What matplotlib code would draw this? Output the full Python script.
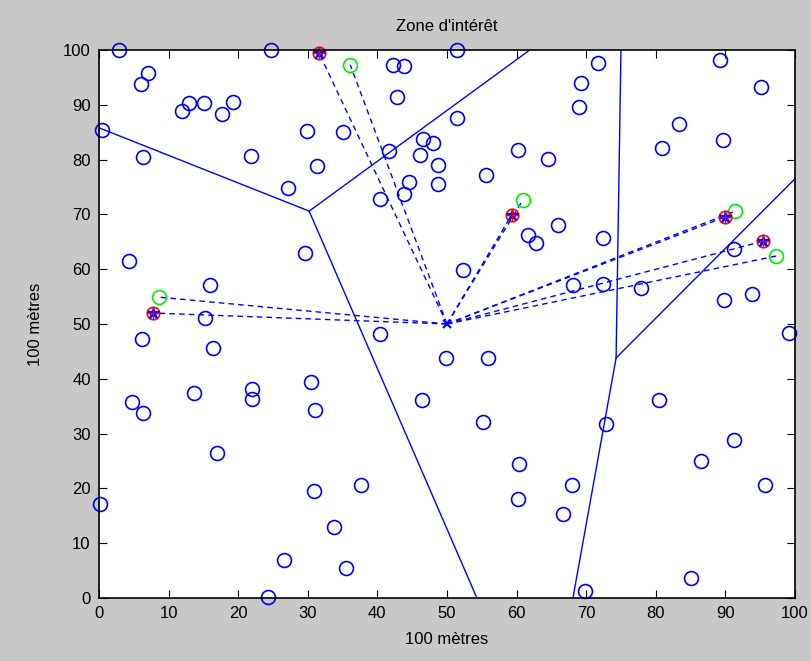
import numpy as np
import matplotlib
matplotlib.use("Agg")
import matplotlib.pyplot as plt

plt.rcParams['font.family'] = ['Liberation Sans', 'DejaVu Sans']

# capteurs (cercles bleus)
nodeX = [2.9, 24.7, 51.4, 71.7, 69.3, 69.0, 89.2, 95.1, 6.0, 7.0, 11.9, 12.9, 15.1, 17.7, 19.3,
         0.4, 6.3, 21.8, 29.9, 35.1, 31.3, 27.2, 42.2, 43.8, 42.8, 41.7, 46.6, 48.0, 46.1, 48.7,
         44.5, 43.8, 48.7, 40.4, 51.4, 60.2, 64.5, 55.6, 65.9, 83.3, 80.9, 89.7,
         4.3, 29.6, 15.9, 15.2, 6.2, 16.4, 40.4, 49.9, 4.7, 6.3, 13.6, 22.0, 22.0, 30.5, 31.0, 46.4,
         52.3, 61.6, 62.8, 72.4, 68.1, 72.4, 77.9, 91.2, 89.8, 93.8, 99.1, 55.9, 80.5, 55.2, 72.8,
         16.9, 0.1, 30.9, 37.6, 33.8, 26.6, 35.5, 24.3,
         91.2, 86.5, 60.3, 68.0, 95.7, 60.2, 66.7, 85.1, 69.8]
nodeY = [100, 100, 100, 97.6, 94.0, 89.6, 98.2, 93.2, 93.8, 95.8, 88.9, 90.3, 90.3, 88.3, 90.5,
         85.4, 80.5, 80.7, 85.2, 85.0, 78.8, 74.8, 97.3, 97.1, 91.4, 81.6, 83.8, 83.0, 80.8, 79.0,
         75.9, 73.7, 75.5, 72.8, 87.6, 81.8, 80.1, 77.2, 68.1, 86.5, 82.1, 83.6,
         61.5, 63.0, 57.1, 51.1, 47.3, 45.6, 48.2, 43.8, 35.8, 33.8, 37.4, 38.1, 36.3, 39.4, 34.3, 36.1,
         59.9, 66.2, 64.8, 65.6, 57.2, 57.3, 56.6, 63.7, 54.4, 55.5, 48.4, 43.8, 36.1, 32.1, 31.7,
         26.4, 17.2, 19.5, 20.6, 13.0, 6.9, 5.5, 0.2,
         28.8, 25.0, 24.4, 20.6, 20.6, 18.1, 15.3, 3.7, 1.3]

# chefs de cluster (rouge) et noeuds verts
headX = [7.8, 31.6, 59.3, 89.9, 95.4]
headY = [52.0, 99.5, 69.9, 69.5, 65.1]
greenX = [8.6, 36.1, 60.9, 91.4, 97.3]
greenY = [54.9, 97.3, 72.6, 70.6, 62.4]

# station de base
sinkX, sinkY = 50, 50

# aretes de Voronoi
edges = [
    ([0, 30.2], [85.8, 70.6]),
    ([30.2, 61.9], [70.6, 100]),
    ([30.2, 54.3], [70.6, 0]),
    ([75.0, 74.3], [100, 43.8]),
    ([74.3, 68.1], [43.8, 0]),
    ([74.3, 100], [43.8, 76.5]),
]

fig = plt.figure(figsize=(8.12, 6.61), dpi=100)
fig.patch.set_facecolor('#c8c8c8')
ax = fig.add_axes([0.1219, 0.0953, 0.8571, 0.8291])
ax.set_facecolor('white')

for ex, ey in edges:
    ax.plot(ex, ey, color='blue', lw=1.0)

for hx, hy in zip(headX, headY):
    ax.plot([sinkX, hx], [sinkY, hy], color='blue', ls=(0, (4, 3)), lw=1.0)
for gx, gy in zip(greenX, greenY):
    ax.plot([sinkX, gx], [sinkY, gy], color='blue', ls=(0, (4, 3)), lw=1.0)

ax.plot(nodeX, nodeY, 'o', mfc='none', mec='blue', ms=10, mew=1.2, clip_on=False)
ax.plot(greenX, greenY, 'o', mfc='none', mec='#00ee00', ms=10, mew=1.2, clip_on=False)
ax.plot(headX, headY, 'o', mfc='none', mec='red', ms=9, mew=1.2, clip_on=False)
ax.plot(headX, headY, '*', color='blue', ms=9, clip_on=False)
ax.plot(headX, headY, '+', color='red', ms=8, mew=1.0, clip_on=False)
ax.plot([sinkX], [sinkY], 'x', color='blue', ms=6, mew=1.5)

ax.set_xlim(0, 100)
ax.set_ylim(0, 100)
ax.set_xticks(np.arange(0, 101, 10))
ax.set_yticks(np.arange(0, 101, 10))
ax.tick_params(direction='in', top=True, right=True, length=6, labelsize=12, pad=6)
for s in ax.spines.values():
    s.set_linewidth(1.2)

ax.set_title("Zone d'intérêt", fontsize=12, pad=14)
ax.set_xlabel("100 mètres", fontsize=12, labelpad=8)
ax.set_ylabel("100 mètres", fontsize=12, labelpad=14)

fig.savefig('out.png', dpi=100, facecolor=fig.get_facecolor())
